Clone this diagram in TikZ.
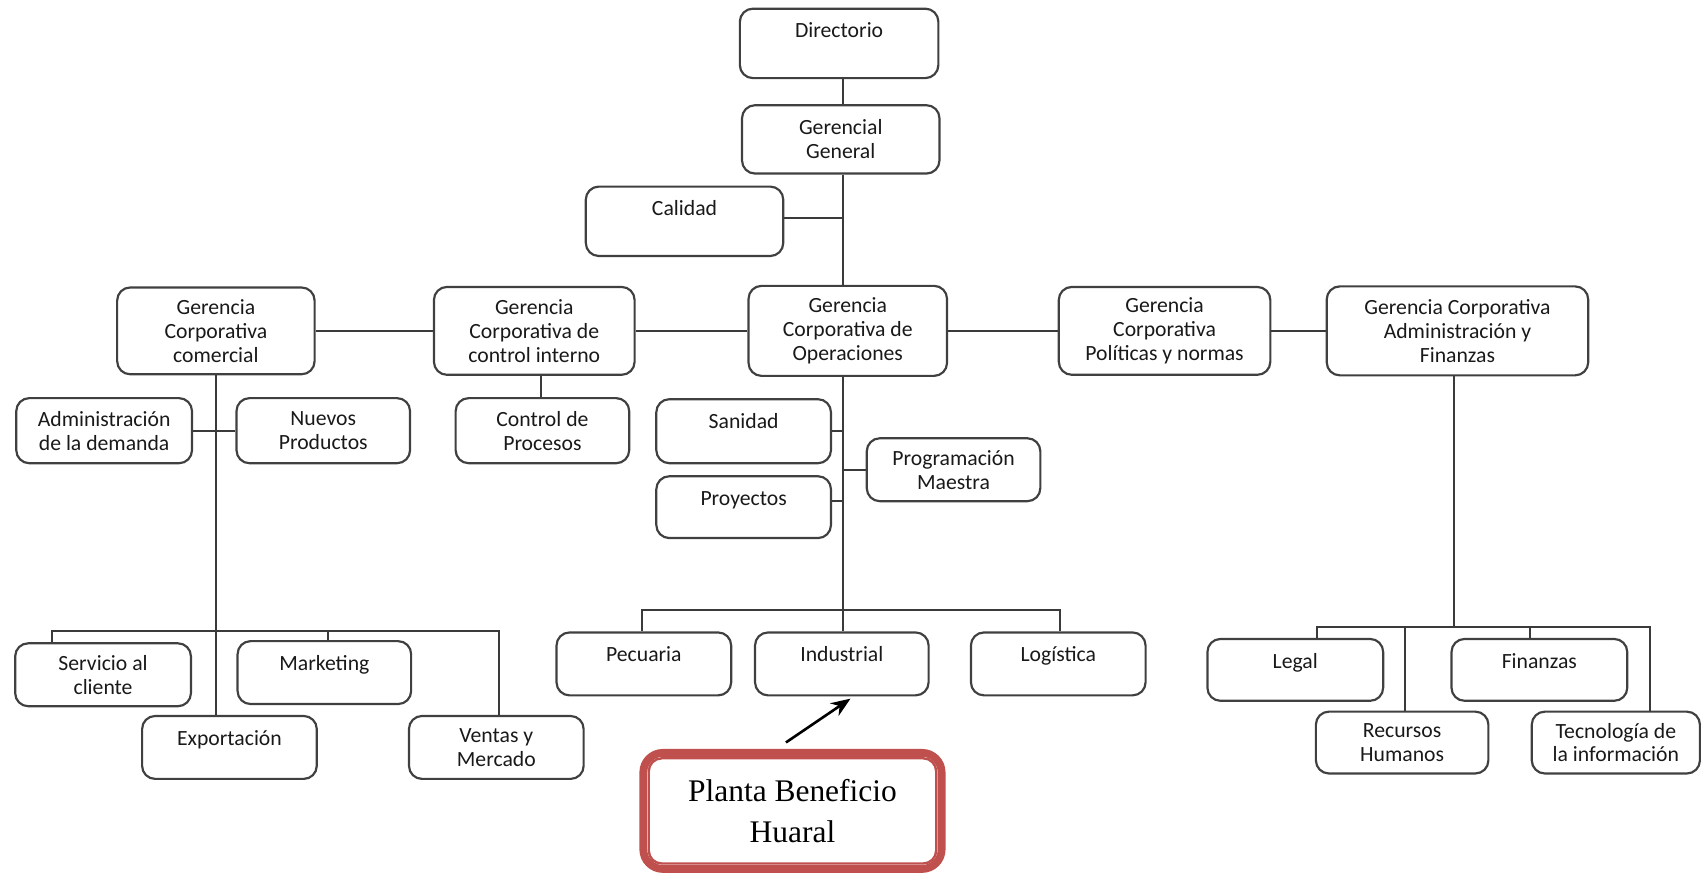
\documentclass[tikz,border=0pt]{standalone}
\usepackage{fontspec}
\setmainfont{Carlito}
\newfontfamily\timesf{Liberation Serif}
\usetikzlibrary{arrows.meta,calc}
\definecolor{boxline}{HTML}{404040}
\definecolor{connc}{HTML}{3A3A3A}
\definecolor{pred}{HTML}{C0504D}
\begin{document}
\begin{tikzpicture}[x=0.5pt,y=-0.5pt,
 box/.style={draw=boxline, line width=1pt, rounded corners=6pt, inner sep=0pt, align=center,
   font=\fontsize{10}{11}\selectfont, text=black!90},
 topt/.style={text height=13.5pt, text depth=#1},
 conn/.style={draw=connc, line width=1pt},
]
\useasboundingbox (0,0) rectangle (1568,807);

% top
\node[box, minimum width=91.5pt, minimum height=32pt, topt=18.5pt] (dir) at (773.5,40) {Directorio};
\node[box, minimum width=91pt, minimum height=31.5pt] (gg) at (775,128.5) {Gerencial\\General};
\node[box, minimum width=91pt, minimum height=32pt, topt=18.5pt] (cal) at (631,204) {Calidad};

% row 2
\node[box, minimum width=91pt, minimum height=40pt] (com) at (199,305) {Gerencia\\Corporativa\\comercial};
\node[box, minimum width=92.5pt, minimum height=40.5pt] (cint) at (492.5,305) {Gerencia\\Corporativa de\\control interno};
\node[box, minimum width=91.5pt, minimum height=41.5pt] (ops) at (781.5,305) {Gerencia\\Corporativa de\\Operaciones};
\node[box, minimum width=97.5pt, minimum height=40.5pt] (pol) at (1073.5,305) {Gerencia\\Corporativa\\Políticas y normas};
\node[box, minimum width=120.5pt, minimum height=41pt] (adm) at (1343.5,305) {Gerencia Corporativa\\Administración y\\Finanzas};

% row 3
\node[box, minimum width=81pt, minimum height=30pt] (admd) at (96,397) {Administración\\de la demanda};
\node[box, minimum width=80pt, minimum height=30pt] (nuevos) at (298,397) {Nuevos\\Productos};
\node[box, minimum width=80pt, minimum height=30pt] (cproc) at (500,397) {Control de\\Procesos};
\node[box, minimum width=80.5pt, minimum height=29.5pt, topt=16pt] (san) at (685.5,397.5) {Sanidad};
\node[box, minimum width=80pt, minimum height=29pt] (prog) at (879,433) {Programación\\Maestra};
\node[box, minimum width=80.5pt, minimum height=28.5pt, topt=15pt] (proy) at (685.5,467.5) {Proyectos};

% bottom left
\node[box, minimum width=81pt, minimum height=29pt] (serv) at (95,622) {Servicio al\\cliente};
\node[box, minimum width=80pt, minimum height=29pt, topt=15.5pt] (mkt) at (299,620) {Marketing};
\node[box, minimum width=80.5pt, minimum height=29pt, topt=15.5pt] (exp) at (211.5,689) {Exportación};
\node[box, minimum width=80.5pt, minimum height=29pt] (ven) at (457.5,689) {Ventas y\\Mercado};

% bottom middle
\node[box, minimum width=80.5pt, minimum height=29pt, topt=15.5pt] (pec) at (593.5,612) {Pecuaria};
\node[box, minimum width=80pt, minimum height=29pt, topt=15.5pt] (ind) at (776,612) {Industrial};
\node[box, minimum width=80.5pt, minimum height=29pt, topt=15.5pt] (log) at (975.5,612) {Logística};

% bottom right
\node[box, minimum width=81pt, minimum height=28.5pt, topt=15pt] (legal) at (1194,617.5) {Legal};
\node[box, minimum width=81pt, minimum height=28.5pt, topt=15pt] (fin) at (1419,617.5) {Finanzas};
\node[box, minimum width=79.5pt, minimum height=28.5pt] (rrhh) at (1292.5,684.5) {Recursos\\Humanos};
\node[box, minimum width=77.5pt, minimum height=28.5pt] (tec) at (1489.5,684.5) {Tecnología de\\la información};

% planta
\node[draw=pred, line width=3.6pt, rounded corners=9pt, inner sep=0pt, minimum width=137.5pt, minimum height=53.5pt,
  align=center, font=\timesf\fontsize{14.5}{19}\selectfont] (planta) at (730.5,747.5) {\raisebox{-2pt}{\parbox{130pt}{\centering Planta Beneficio\\Huaral}}};
\draw[pred, line width=1.1pt, rounded corners=6pt] ($(planta.north west)+(4.3pt,-4.3pt)$) rectangle ($(planta.south east)+(-4.3pt,4.3pt)$);

% connectors
\coordinate (sp) at (777,0);
\draw[conn] (dir.south -| sp) -- (gg.north -| sp);
\draw[conn] (gg.south -| sp) -- (ops.north -| sp);
\draw[conn] ([yshift=1.5pt]cal.east) -- ([yshift=1.5pt]cal.east -| sp);

\draw[conn] (com.east) -- (cint.west);
\draw[conn] (cint.east) -- (ops.west);
\draw[conn] (ops.east) -- (pol.west);
\draw[conn] (pol.east) -- (adm.west);

% comercial
\draw[conn] (com.south) -- (com.south |- exp.north);
\draw[conn] (admd.east) -- (nuevos.west);
\coordinate (lbL) at (48,582);
\coordinate (lbM) at (302,582);
\coordinate (lbR) at (460,582);
\draw[conn] (serv.north -| lbL) -- (lbL) -- (lbR) -- (ven.north -| lbR);
\draw[conn] (lbM) -- (mkt.north -| lbM);

% control interno
\coordinate (cx) at (499,0);
\draw[conn] (cint.south -| cx) -- (cproc.north -| cx);

% operaciones
\draw[conn] (ops.south -| sp) -- (ind.north -| sp);
\draw[conn] (san.east) -- (san.east -| sp);
\draw[conn] (prog.west) -- (prog.west -| sp);
\draw[conn] ([yshift=2.75pt]proy.east) -- ([yshift=2.75pt]proy.east -| sp);
\coordinate (mbL) at (592,562);
\coordinate (mbR) at (977,562);
\draw[conn] (pec.north -| mbL) -- (mbL) -- (mbR) -- (log.north -| mbR);

% administracion
\coordinate (rs) at (1340,578);
\draw[conn] (adm.south -| rs) -- (rs);
\coordinate (rbL) at (1214,578);
\coordinate (rb1) at (1295,578);
\coordinate (rb2) at (1410,578);
\coordinate (rbR) at (1521,578);
\draw[conn] (legal.north -| rbL) -- (rbL) -- (rbR) -- (tec.north -| rbR);
\draw[conn] (rb1) -- (rrhh.north -| rb1);
\draw[conn] (rb2) -- (fin.north -| rb2);

% arrow
\draw[-{Stealth[length=9pt,width=7pt]}, line width=1.2pt, black] ([xshift=-3pt,yshift=3pt]planta.north) -- ([xshift=4pt,yshift=-1pt]ind.south);
\end{tikzpicture}
\end{document}
